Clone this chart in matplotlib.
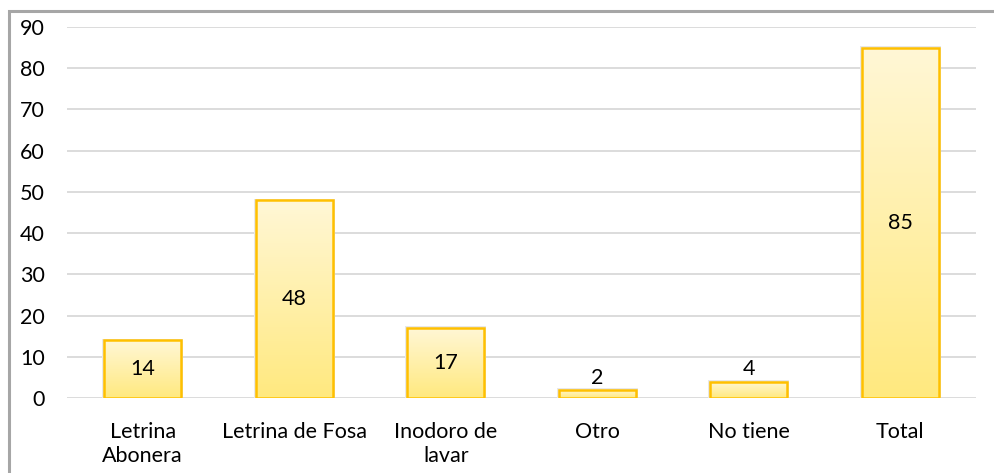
import matplotlib
matplotlib.use("Agg")
import matplotlib.pyplot as plt
import numpy as np
from matplotlib.patches import Rectangle
from matplotlib.colors import LinearSegmentedColormap

categories = ["Letrina\nAbonera", "Letrina de Fosa", "Inodoro de\nlavar", "Otro", "No tiene", "Total"]
values = [14, 48, 17, 2, 4, 85]
yticks = [0, 10, 20, 30, 40, 50, 60, 70, 80, 90]

plt.rcParams['font.family'] = ['Lato', 'DejaVu Sans']
FS = 15.5

W, H = 995, 473
fig = plt.figure(figsize=(W / 100, H / 100), dpi=100)
ax = fig.add_axes([67 / W, 1 - 398 / H, 909 / W, 371 / H])

x = np.arange(len(categories))
bw = 0.51
cmap = LinearSegmentedColormap.from_list("g", ["#FFE97F", "#FFF7D6"])
grad = np.linspace(0, 1, 256).reshape(-1, 1)

bars = ax.bar(x, values, width=bw, facecolor="none", edgecolor="#FFC000", linewidth=1.8, zorder=3)
for b in bars:
    x0, y0 = b.get_x(), b.get_y()
    w, h = b.get_width(), b.get_height()
    ax.add_patch(Rectangle((x0 - 0.012, y0), w + 0.024, h + 0.35, facecolor="#E8E8E8",
                           edgecolor="none", zorder=1.5))
    im = ax.imshow(grad, cmap=cmap, aspect="auto", origin="lower",
                   extent=(x0, x0 + w, y0, y0 + h), zorder=2)
    clip = Rectangle((x0, y0), w, h, transform=ax.transData)
    im.set_clip_path(clip)

for xi, v in zip(x, values):
    if v >= 10:
        ax.text(xi, v / 2, str(v), ha="center", va="center", fontsize=FS, color="#000000", zorder=4)
    else:
        ax.text(xi, v + 0.5, str(v), ha="center", va="bottom", fontsize=FS, color="#000000", zorder=4)

ax.set_xlim(-0.5, len(categories) - 0.5)
ax.set_ylim(0, 90)
ax.set_yticks(yticks)
ax.set_yticklabels([str(t) for t in yticks], fontsize=FS)
ax.set_xticks(x)
ax.set_xticklabels(categories, fontsize=FS, linespacing=1.3)
ax.tick_params(axis="both", length=0)
ax.tick_params(axis="y", pad=16)
ax.tick_params(axis="x", pad=17)
ax.grid(axis="y", color="#D9D9D9", linewidth=1.3, zorder=0)
ax.set_axisbelow(True)
for s in ax.spines.values():
    s.set_visible(False)

fig.patches.append(Rectangle((9 / W, -0.1), 1.2, 1 - 11 / H + 0.1, transform=fig.transFigure,
                             facecolor="none", edgecolor="#A6A6A6", linewidth=2.2))

fig.savefig("out.png", dpi=100)
